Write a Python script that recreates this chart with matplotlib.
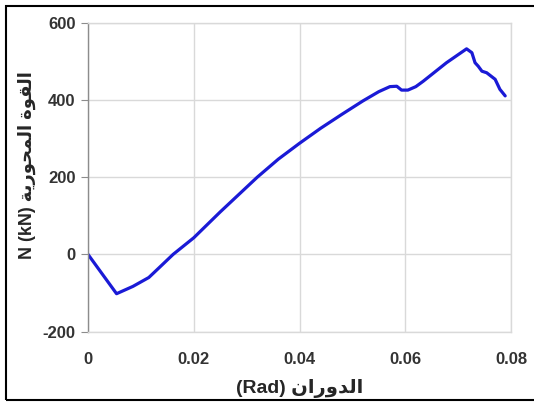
import matplotlib
matplotlib.use("Agg")
import matplotlib.pyplot as plt
from matplotlib.patches import Rectangle

plt.rcParams["axes.unicode_minus"] = False

# Data
rotation = [0.0, 0.0054, 0.0085, 0.0115, 0.0135, 0.0161, 0.0200, 0.0250, 0.0320,
            0.0360, 0.0400, 0.0440, 0.0480, 0.0520, 0.0550, 0.0571, 0.0584, 0.0593,
            0.0605, 0.0620, 0.0634, 0.0678, 0.0716, 0.0726, 0.0732, 0.0738, 0.0745,
            0.0754, 0.0770, 0.0779, 0.0789]
axial_force = [0, -102, -83, -60, -34, 0, 43, 110, 200,
               247, 288, 327, 363, 398, 422, 435, 436, 426,
               426, 435, 449, 497, 533, 523, 497, 488, 475,
               471, 454, 428, 411]

x_ticks = [0, 0.02, 0.04, 0.06, 0.08]
x_tick_labels = ["0", "0.02", "0.04", "0.06", "0.08"]
y_ticks = [-200, 0, 200, 400, 600]

# Arabic in visual order using presentation forms (no shaping engine in matplotlib)
x_label = "(Rad) \ufee5\ufe8d\ufead\ufeed\ufeaa\ufedf\ufe8d"
y_label = "N (kN) \ufe94\ufef3\ufead\ufeee\ufea4\ufee4\ufedf\ufe8d \ufe93\ufeee\ufed8\ufedf\ufe8d"

fam = ["Liberation Sans", "DejaVu Sans"]

fig = plt.figure(figsize=(5.34, 4.04), dpi=100)
ax = fig.add_axes([88/534, 1-331.5/404, (511-88)/534, (331.5-23)/404])

ax.plot(rotation, axial_force, color="#1a1ad6", lw=2.3,
        solid_joinstyle="round", solid_capstyle="round")

ax.set_xlim(0, 0.08)
ax.set_ylim(-200, 600)
ax.set_xticks(x_ticks)
ax.set_xticklabels(x_tick_labels)
ax.set_yticks(y_ticks)
ax.grid(True, color="#d9d9d9", lw=1)
ax.set_axisbelow(True)

for s in ["top", "right", "bottom"]:
    ax.spines[s].set_color("#d9d9d9")
    ax.spines[s].set_linewidth(1)
ax.spines["left"].set_color("#8c8c8c")
ax.spines["left"].set_linewidth(1)

ax.tick_params(axis="y", direction="out", length=5, color="#8c8c8c", pad=4)
ax.tick_params(axis="x", length=0, pad=15)
for lab in ax.get_xticklabels() + ax.get_yticklabels():
    lab.set_family(fam)
    lab.set_fontweight("bold")
    lab.set_fontsize(12)
    lab.set_color("#333333")

ax.set_xlabel(x_label, family=fam, fontweight="bold", fontsize=14, color="#262626",
              va="center")
ax.xaxis.set_label_coords(0.5, -(389-331.5)/308.5)
ax.set_ylabel(y_label, family=fam, fontweight="bold", fontsize=13, color="#262626",
              va="center")
ax.yaxis.set_label_coords((27-88)/423, 0.54)

fig.patches.append(Rectangle((6/534, 4/404), 1.2, (400-6)/404, transform=fig.transFigure,
                             fill=False, edgecolor="black", lw=1.5))

fig.savefig("out.png", dpi=100)
